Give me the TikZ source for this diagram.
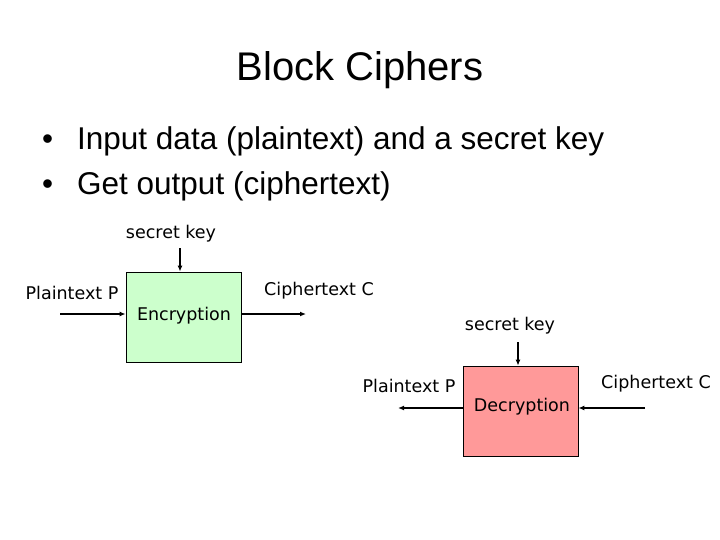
\documentclass[tikz,border=0pt]{standalone}
\usepackage{fontspec}
\setmainfont{Liberation Sans}
\newfontfamily\labelfont{DejaVu Sans}
\usepackage{xcolor}
\usetikzlibrary{arrows.meta,positioning}

\definecolor{encgreen}{RGB}{204,255,204}
\definecolor{decred}{RGB}{255,153,153}

\tikzset{
  cipherbox/.style={draw, line width=0.8pt, minimum width=115pt, minimum height=90pt, inner sep=0pt},
  lbl/.style={font=\labelfont\fontsize{17.5}{20}\selectfont, inner sep=0pt},
  bullet/.style={anchor=base west, inner sep=0pt, font=\fontsize{31.5}{36}\selectfont},
  flow/.style={line width=1.4pt, -{Latex[length=6pt,width=5pt]}}
}

\begin{document}
\begin{tikzpicture}[x=1pt,y=-1pt]
        \useasboundingbox (0,0) rectangle (720,540);
        % title and bullets
        \node[font=\fontsize{40}{44}\selectfont] (title) at (360,70) {Block Ciphers};
        \node[bullet] (b1) at (42,150) {\makebox[35pt][l]{\textbullet}Input data (plaintext) and a secret key};
        \node[bullet] (b2) at (42,195) {\makebox[35pt][l]{\textbullet}Get output (ciphertext)};
        % encryption
        \node[cipherbox, fill=encgreen] (enc) at (183.5,317) {};
        \node[lbl] (enctext) at (184,316) {Encryption};
        \node[lbl] (ekey) at (171,234) {secret key};
        \node[lbl] (eplain) at (72,293) {Plaintext P};
        \node[lbl] (ecipher) at (319,291) {Ciphertext C};
        \coordinate (ekeyend) at (180,248);
        \coordinate (einend) at (60,314);
        \coordinate (eoutend) at (306,314);
        \draw[flow] (ekeyend) -- (ekeyend |- enc.north);
        \draw[flow] (einend) -- (einend -| enc.west);
        \draw[flow] (einend -| enc.east) -- (eoutend);
        % decryption
        \node[cipherbox, fill=decred] (dec) at (520.5,411) {};
        \node[lbl] (dectext) at (522,407) {Decryption};
        \node[lbl] (dkey) at (510,326) {secret key};
        \node[lbl] (dplain) at (409,386) {Plaintext P};
        \node[lbl] (dcipher) at (656,384) {Ciphertext C};
        \coordinate (dkeyend) at (518,342);
        \coordinate (doutend) at (398,408);
        \coordinate (dinend) at (645,408);
        \draw[flow] (dkeyend) -- (dkeyend |- dec.north);
        \draw[flow] (doutend -| dec.west) -- (doutend);
        \draw[flow] (dinend) -- (dinend -| dec.east);
    \end{tikzpicture}
\end{document}
